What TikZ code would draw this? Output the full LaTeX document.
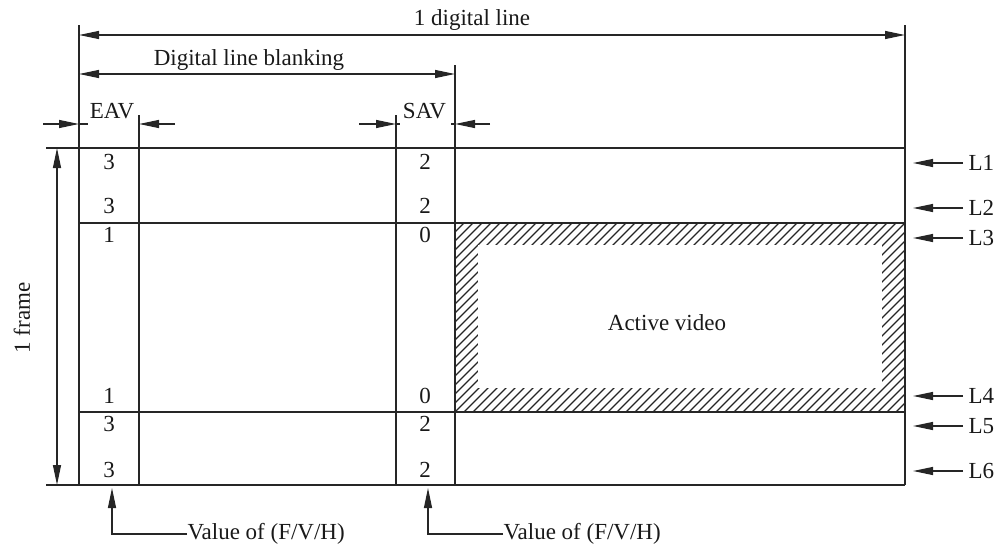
\documentclass[tikz,border=0pt]{standalone}
\usepackage{fontspec}
\setmainfont{Liberation Serif}
\usetikzlibrary{arrows.meta}
\begin{document}
\begin{tikzpicture}[x=1pt,y=-1pt,line width=1.2pt,
  every node/.style={font=\fontsize{23}{27}\selectfont,inner sep=0pt,text=black!90},
  tipend/.style={-{Triangle[length=20pt,width=8pt]}},
  tipboth/.style={{Triangle[length=20pt,width=8pt]}-{Triangle[length=20pt,width=8pt]}},
  lbl/.style={anchor=base},
  num/.style={anchor=center},
  hatchline/.style={line width=1.1pt}]
\useasboundingbox (0,0) rectangle (1002,549);
\begin{scope}[draw=black!85]
% hatched active area
\begin{scope}
  \clip (455,223) rectangle (905,412);
  \foreach \i in {0,9,...,660}{
    \draw[hatchline] (266+\i,412) -- ++(189,-189);
  }
\end{scope}
\fill[white] (478,245) rectangle (882,388);
% coordinates
\coordinate (Ltop) at (79,25);   \coordinate (Lbot) at (79,485);
\coordinate (Rtop) at (905,25);  \coordinate (Rbot) at (905,485);
\coordinate (Etop) at (139,115); \coordinate (Ebot) at (139,485);
\coordinate (Stop) at (396,115); \coordinate (Sbot) at (396,485);
\coordinate (Atop) at (455,65);  \coordinate (Abot) at (455,485);
% vertical lines
\draw (Ltop) -- (Lbot);
\draw (Rtop) -- (Rbot);
\draw (Etop) -- (Ebot);
\draw (Stop) -- (Sbot);
\draw (Atop) -- (Abot);
% horizontal lines
\coordinate (h1l) at (46,148);  \coordinate (h1r) at (905,148);
\coordinate (h2l) at (79,223);  \coordinate (h2r) at (905,223);
\coordinate (h3l) at (79,412);  \coordinate (h3r) at (905,412);
\coordinate (h4l) at (46,485);  \coordinate (h4r) at (905,485);
\draw (h1l) -- (h1r);
\draw (h2l) -- (h2r);
\draw (h3l) -- (h3r);
\draw (h4l) -- (h4r);
% dimension: 1 digital line
\coordinate (d1a) at (79,35); \coordinate (d1b) at (905,35);
\draw[tipboth] (d1a) -- (d1b);
\node[lbl] (tdl) at (472,25) {1 digital line};
% dimension: digital line blanking
\coordinate (d2a) at (79,74); \coordinate (d2b) at (455,74);
\draw[tipboth] (d2a) -- (d2b);
\node[lbl] (tdlb) at (249,65) {Digital line blanking};
% EAV
\coordinate (e1a) at (43,124); \coordinate (e1b) at (79,124); \coordinate (e1c) at (88,124);
\coordinate (e2a) at (175,124); \coordinate (e2b) at (139,124);
\draw[tipend] (e1a) -- (e1b); \draw (e1b) -- (e1c);
\draw[tipend] (e2a) -- (e2b);
\node[lbl] (teav) at (112,118) {EAV};
% SAV
\coordinate (s1a) at (359,124); \coordinate (s1b) at (396,124); \coordinate (s1c) at (400,124);
\coordinate (s2a) at (490,124); \coordinate (s2b) at (455,124); \coordinate (s2c) at (451,124);
\draw[tipend] (s1a) -- (s1b); \draw (s1b) -- (s1c);
\draw[tipend] (s2a) -- (s2b); \draw (s2b) -- (s2c);
\node[lbl] (tsav) at (424.5,118) {SAV};
% 1 frame
\coordinate (fa) at (57,148); \coordinate (fb) at (57,485);
\draw[tipboth] (fa) -- (fb);
\node[rotate=90] (tframe) at (22,318) {1 frame};
% numbers
\node[num] (e1) at (109,162) {3};  \node[num] (s1) at (425,162) {2};
\node[num] (e2) at (109,206) {3};  \node[num] (s2) at (425,206) {2};
\node[num] (e3) at (109,235) {1};  \node[num] (s3) at (425,235) {0};
\node[num] (e4) at (109,396) {1};  \node[num] (s4) at (425,396) {0};
\node[num] (e5) at (109,424) {3};  \node[num] (s5) at (425,424) {2};
\node[num] (e6) at (109,470) {3};  \node[num] (s6) at (425,470) {2};
% active video
\node (av) at (667,323) {Active video};
% L labels
\foreach \n/\y in {1/163,2/208,3/238,4/396,5/426,6/471}{
  \node[anchor=west] (L\n) at (968,\y) {L\n};
  \coordinate (La\n) at (913,\y);
  \draw[tipend] (L\n.west) ++(-5,0) -- (La\n);
}
% value labels
\node[anchor=west] (v1) at (187,534) {Value of (F/V/H)};
\node[anchor=west] (v2) at (503,534) {Value of (F/V/H)};
\coordinate (v1t) at (112,488);
\coordinate (v2t) at (428,488);
\draw[tipend] (v1.west) -| (v1t);
\draw[tipend] (v2.west) -| (v2t);
\end{scope}
\end{tikzpicture}
\end{document}
